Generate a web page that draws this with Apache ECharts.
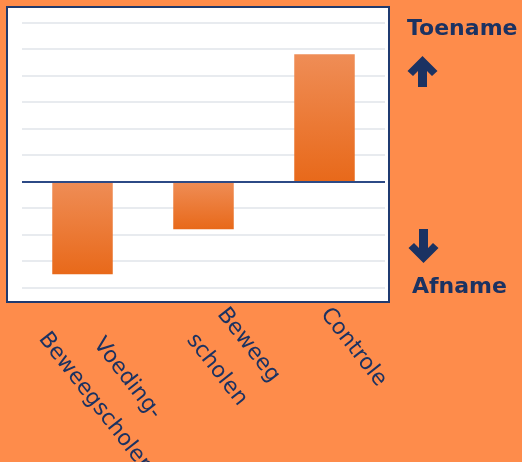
<!DOCTYPE html>
<html>
<head>
<meta charset="utf-8">
<script src="https://cdn.jsdelivr.net/npm/echarts@6/dist/echarts.min.js"></script>
<style>
html,body{margin:0;padding:0;background:#FE8C4B;}
#c{width:522px;height:462px;}
</style>
</head>
<body>
<div id="c"></div>
<script>
const categories = ['Voeding-\nBeweegscholen', 'Beweeg\nscholen', 'Controle'];
const values = [-3.5, -1.8, 4.8];
const sideLabels = ['Toename', 'Afname'];

const navy = '#1B3262';
const FONT_SIZE = 22, LINE_H = 40, GLYPH_H = 20, ROT = 52;
const FONT_FAMILY = '"DejaVu Sans", sans-serif';
const GRID_BOTTOM = 174.5, H = 462, MARGIN = -40;
const LABEL_CX = 29, LABEL_TOP = 304.5;

// Excel-like layout of rotated multi-line labels: the rotated text box is
// centred horizontally just right of the tick and hangs from a fixed top line.
const ctx = document.createElement('canvas').getContext('2d');
ctx.font = FONT_SIZE + 'px ' + FONT_FAMILY;
const th = ROT * Math.PI / 180;
const dv = [Math.cos(th), Math.sin(th)];   // along text
const nv = [-Math.sin(th), Math.cos(th)];  // text "down"
const axisY = H - GRID_BOTTOM;
const inset = (LINE_H - GLYPH_H) / 2;
const axisData = categories.map(function (c) {
  const lines = c.split('\n');
  const W = Math.max.apply(null, lines.map(function (l) { return ctx.measureText(l).width; }));
  const Hr = (lines.length - 1) * LINE_H + GLYPH_H;
  const dx = LABEL_CX - (dv[0] * W + nv[0] * Hr) / 2 - inset * nv[0];
  const dy = LABEL_TOP - inset * nv[1] - axisY - MARGIN;
  const pl = dx * dv[0] + dy * dv[1];
  const pt = dx * nv[0] + dy * nv[1];
  return {value: c, textStyle: {padding: [pt, 0, 0, pl], align: 'left', verticalAlign: 'top'}};
});

const chart = echarts.init(document.getElementById('c'), null, {renderer: 'canvas'});
chart.setOption({
  backgroundColor: '#FE8C4B',
  animation: false,
  graphic: [
    {type: 'rect', z: -10, shape: {x: 7, y: 7, width: 382, height: 295},
     style: {fill: '#ffffff', stroke: '#1F3A70', lineWidth: 2}},
    {type: 'text', left: 407, top: 18,
     style: {text: sideLabels[0], font: 'bold 22px "DejaVu Sans", sans-serif', fill: navy}},
    {type: 'polygon', shape: {points: [[422.5,56],[437.5,71],[432,76],[427,71],[427,87],[418,87],[418,71],[413,76],[407.5,71]]},
     style: {fill: navy}},
    {type: 'polygon', shape: {points: [[423.5,263],[438.5,248],[433,243],[428,248],[428,229],[419,229],[419,248],[414,243],[408.5,248]]},
     style: {fill: navy}},
    {type: 'text', left: 412, top: 276,
     style: {text: sideLabels[1], font: 'bold 22px "DejaVu Sans", sans-serif', fill: navy}}
  ],
  grid: {left: 22, right: 137, top: 22.5, bottom: GRID_BOTTOM, containLabel: false, outerBoundsMode: 'none'},
  xAxis: {
    type: 'category', data: axisData,
    axisLine: {show: false, onZero: false},
    axisTick: {show: false},
    axisLabel: {
      rotate: -ROT, margin: MARGIN, interval: 0,
      verticalAlign: 'top', align: 'left',
      formatter: function (v) {
        return v.split('\n').map(function (s) { return '{a|' + s + '}'; }).join('\n');
      },
      rich: {
        a: {align: 'center', color: navy, fontSize: FONT_SIZE, lineHeight: LINE_H,
            fontFamily: FONT_FAMILY}
      }
    }
  },
  yAxis: {
    type: 'value', min: -4, max: 6, interval: 1,
    axisLabel: {show: false}, axisLine: {show: false}, axisTick: {show: false},
    splitLine: {lineStyle: {color: '#E1E5EA', width: 1.5}}
  },
  series: [{
    type: 'bar', data: values, barWidth: '50%',
    itemStyle: {
      color: new echarts.graphic.LinearGradient(0, 0, 0, 1, [
        {offset: 0, color: '#EF8D56'},
        {offset: 1, color: '#E8691A'}
      ])
    },
    markLine: {
      silent: true, symbol: 'none', label: {show: false},
      lineStyle: {color: '#2C4A86', width: 2, type: 'solid'},
      data: [{yAxis: 0}]
    }
  }]
});
</script>
</body>
</html>
